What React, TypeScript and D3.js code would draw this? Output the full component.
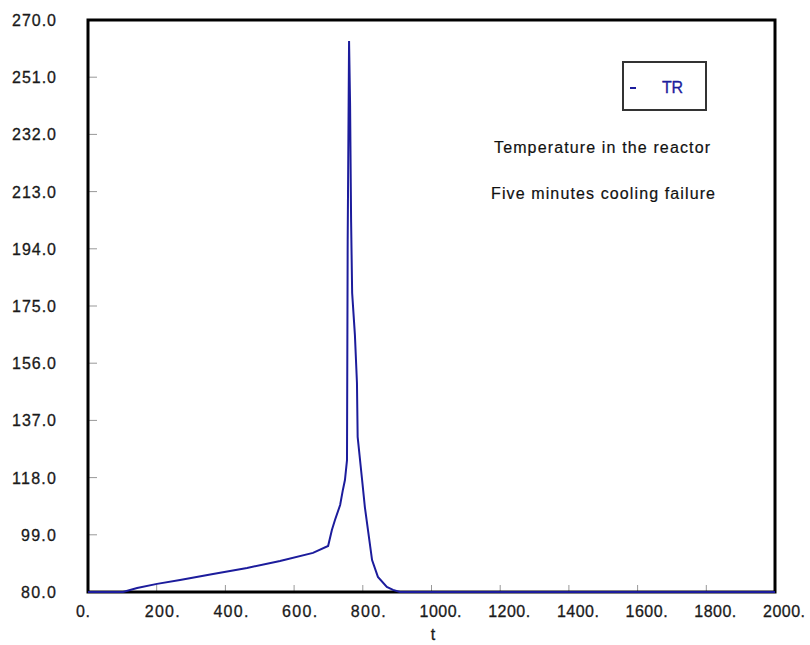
import React from "react";
import * as d3 from "d3";

const timeValues = [0, 102, 143, 201, 268, 364, 463, 559, 655, 699, 710, 719, 734, 742, 748, 754, 756, 760, 763, 766, 769, 777, 783, 785, 798, 806, 815, 827, 844, 870, 888, 908, 2000];
const tempValues = [80, 80, 81.3, 82.7, 84, 86, 88, 90.3, 93, 95.3, 100.6, 103.9, 108.9, 113.9, 117.2, 123.8, 197, 263, 241.8, 202.9, 179.3, 165.4, 149.4, 131.5, 117.2, 108.2, 100.6, 90.6, 85, 81.7, 80.7, 80, 80];
const xTicks = [0, 200, 400, 600, 800, 1000, 1200, 1400, 1600, 1800, 2000];
const xTickLabels = ["0.", "200.", "400.", "600.", "800.", "1000.", "1200.", "1400.", "1600.", "1800.", "2000."];
const yTicks = [80, 99, 118, 137, 156, 175, 194, 213, 232, 251, 270];
const yTickLabels = ["80.0", "99.0", "118.0", "137.0", "156.0", "175.0", "194.0", "213.0", "232.0", "251.0", "270.0"];
const seriesName = "TR";
const annotations = ["Temperature in the reactor", "Five minutes cooling failure"];
const xTitle = "t";

export default function App() {
  const W = 810, H = 645;
  const left = 88, right = 775, top = 20, bottom = 592;
  const x = d3.scaleLinear().domain([0, 2000]).range([left, right]);
  const y = d3.scaleLinear().domain([80, 270]).range([bottom, top]);
  const data = timeValues.map((t, i) => ({ t, v: tempValues[i] }));
  const line = d3.line<{ t: number; v: number }>().x(d => x(d.t)).y(d => y(d.v));
  const font = "'Liberation Sans', Arial, sans-serif";
  const blue = "#1c1c9c";
  const yLabelWidths = (s: string) => (s.length === 4 ? 35 : 44);
  const xLabelWidth = (s: string) => (s.length === 2 ? 14 : s.length === 4 ? 35 : 42);
  return (
    <svg width={W} height={H} style={{ position: "absolute", left: 0, top: 0, background: "#fff" }}>
      <rect x={0} y={0} width={W} height={H} fill="#fff" />
      {yTicks.map((v, i) => (
        <g key={"y" + i}>
          {i > 0 && i < yTicks.length - 1 && (
            <line x1={left} x2={left + 9} y1={y(v)} y2={y(v)} stroke="#999" strokeWidth={1} />
          )}
          <text x={56} y={y(v) + 6} textAnchor="end" fontFamily={font} fontSize={16} fill="#1a1a1a"
            stroke="#1a1a1a" strokeWidth={0.3}
            textLength={yLabelWidths(yTickLabels[i])} lengthAdjust="spacing">{yTickLabels[i]}</text>
        </g>
      ))}
      {xTicks.map((v, i) => (
        <g key={"x" + i}>
          {i > 0 && i < xTicks.length - 1 && (
            <line x1={x(v)} x2={x(v)} y1={bottom} y2={bottom - 7} stroke="#999" strokeWidth={1} />
          )}
          <text x={x(v) - 12} y={617} textAnchor="start" fontFamily={font} fontSize={16} fill="#1a1a1a"
            stroke="#1a1a1a" strokeWidth={0.3}
            textLength={xLabelWidth(xTickLabels[i])} lengthAdjust="spacing">{xTickLabels[i]}</text>
        </g>
      ))}
      <rect x={left} y={top} width={right - left} height={bottom - top} fill="none" stroke="#000" strokeWidth={3} />
      <path d={line(data) || ""} fill="none" stroke={blue} strokeWidth={2} />
      <text x={433} y={640} textAnchor="middle" fontFamily={font} fontSize={16} fill="#1a1a1a" stroke="#1a1a1a" strokeWidth={0.3}>{xTitle}</text>
      <rect x={623} y={62} width={83} height={48} fill="#fff" stroke="#333" strokeWidth={2} />
      <line x1={630} x2={636} y1={88} y2={88} stroke={blue} strokeWidth={2} />
      <text x={662} y={93} fontFamily={font} fontSize={16} fill={blue} stroke={blue} strokeWidth={0.3} textLength={21} lengthAdjust="spacing">{seriesName}</text>
      <text x={494} y={153} fontFamily={font} fontSize={16} fill="#111" stroke="#111" strokeWidth={0.2} textLength={216} lengthAdjust="spacing">{annotations[0]}</text>
      <text x={491} y={199} fontFamily={font} fontSize={16} fill="#111" stroke="#111" strokeWidth={0.2} textLength={224} lengthAdjust="spacing">{annotations[1]}</text>
    </svg>
  );
}
